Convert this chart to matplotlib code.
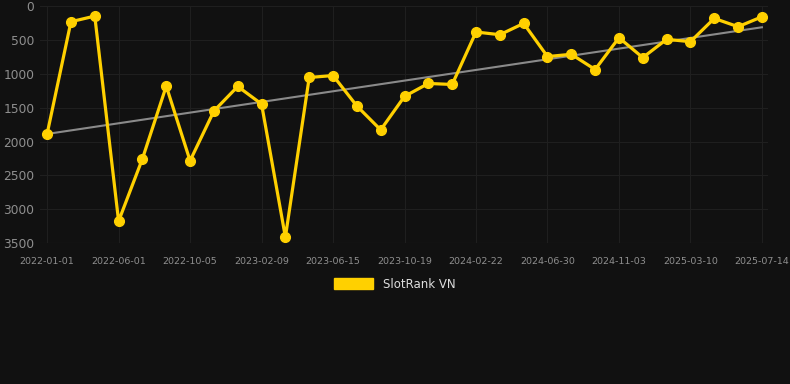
import numpy as np
import matplotlib
matplotlib.use('Agg')
import matplotlib.pyplot as plt
from matplotlib.patches import Patch

# tick labels shown every 3rd point
tick_dates=['2022-01-01', '2022-06-01', '2022-10-05', '2023-02-09', '2023-06-15', '2023-10-19',
            '2024-02-22', '2024-06-30', '2024-11-03', '2025-03-10', '2025-07-14']
ranks=[1887, 230, 147, 3176, 2255, 1181, 2284, 1549, 1186, 1446, 3412, 1054, 1025, 1475, 1828,
       1333, 1142, 1157, 382, 422, 255, 745, 711, 936, 466, 760, 490, 525, 181, 304, 157]
series_name='SlotRank VN'

bg='#111111'
gold='#FFD000'
x=np.arange(len(ranks))
coef=np.polyfit(x, ranks, 1)
trend=np.polyval(coef, x)

fig=plt.figure(figsize=(7.9, 3.84), dpi=100, facecolor=bg)
ax=fig.add_axes([0.0506, 0.367, 0.9214, 0.617])
ax.set_facecolor(bg)
ax.plot(x, trend, color='#8a8a8a', lw=1.5, zorder=2)
ax.plot(x, ranks, color=gold, lw=2.3, marker='o', ms=7, zorder=3)
ax.set_xlim(-0.3, len(ranks)-1+0.25)
ax.set_ylim(3500, 0)
ax.set_yticks(np.arange(0, 3501, 500))
ax.set_xticks(x[::3])
ax.set_xticklabels(tick_dates)
ax.grid(True, color='#1f1f1f', lw=0.8)
for s in ax.spines.values():
    s.set_visible(False)
ax.tick_params(axis='y', colors='#8f8f8f', labelsize=8.8, length=0, pad=4)
ax.tick_params(axis='x', colors='#8f8f8f', labelsize=6.8, length=0, pad=10)
ax.axhline(3500, color='#2c2c2c', lw=0.8)

leg=fig.legend(handles=[Patch(facecolor=gold, edgecolor=gold)], labels=[series_name],
               loc='center', bbox_to_anchor=(0.5, 0.26), frameon=False,
               handlelength=3.3, handleheight=1.0, fontsize=8.5, labelcolor='#dddddd')
fig.savefig('out.png', dpi=100, facecolor=bg)
